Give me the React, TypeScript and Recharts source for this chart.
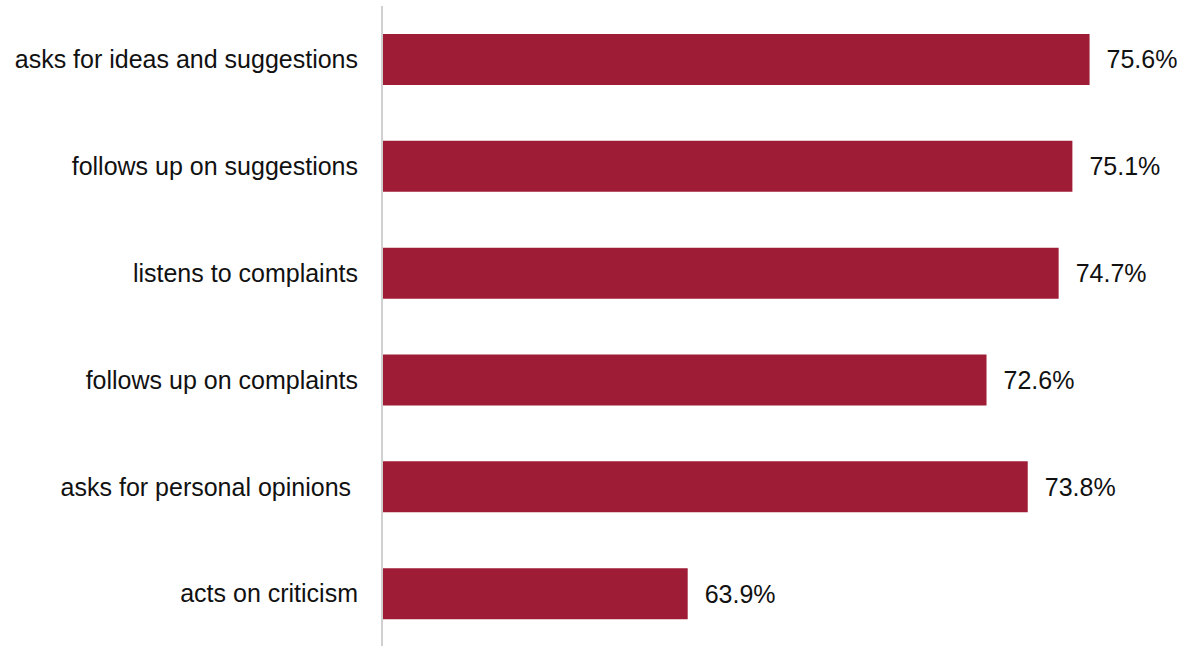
import { BarChart, Bar, XAxis, YAxis, LabelList } from 'recharts';

const categories = [
    'asks for ideas and suggestions',
    'follows up on suggestions',
    'listens to complaints',
    'follows up on complaints',
    'asks for personal opinions\u00a0',
    'acts on criticism',
];

const values = [75.6, 75.1, 74.7, 72.6, 73.8, 63.9];

const data = categories.map((name, i) => ({ name, value: values[i] }));

const font = '"Liberation Sans", Arial, sans-serif';

export default function App() {
    return (
        <div style={{ position: 'absolute', left: 0, top: 0, background: '#fff' }}>
            <BarChart
                width={1189}
                height={647}
                layout="vertical"
                data={data}
                margin={{ top: 6, right: 17, left: 0, bottom: 0 }}
            >
                <XAxis type="number" domain={[55, 78]} hide allowDataOverflow />
                <YAxis
                    type="category"
                    dataKey="name"
                    width={382}
                    tickLine={false}
                    tickSize={0}
                    tickMargin={24}
                    axisLine={{ stroke: '#d0d0d0', strokeWidth: 2 }}
                    tick={{ fill: '#111', fontSize: 25, fontFamily: font }}
                    interval={0}
                />
                <Bar dataKey="value" fill="#9e1c35" barSize={51} isAnimationActive={false}>
                    <LabelList
                        dataKey="value"
                        position="right"
                        offset={17}
                        formatter={(v: number) => v.toFixed(1) + '%'}
                        style={{ fill: '#111', fontSize: 25, fontFamily: font }}
                    />
                </Bar>
            </BarChart>
        </div>
    );
}
